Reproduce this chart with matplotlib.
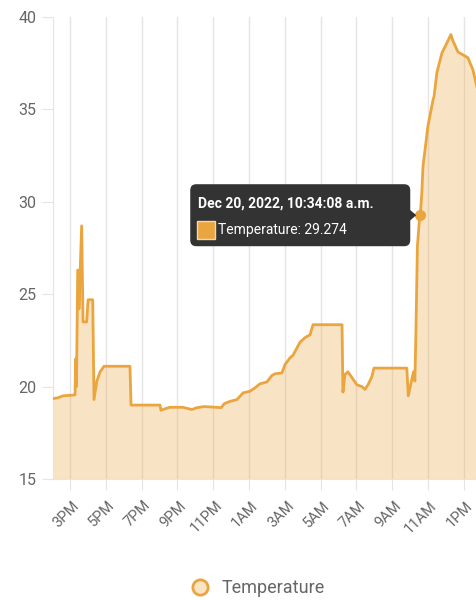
import matplotlib.pyplot as plt
from matplotlib.patches import FancyBboxPatch, Polygon, Rectangle
from matplotlib.lines import Line2D
from matplotlib.transforms import IdentityTransform, ScaledTranslation

plt.rcParams['font.family'] = ['Roboto', 'DejaVu Sans']

# hours since Dec 19 2022 00:00
hours = [14.05, 14.33, 14.61, 15.28, 15.32, 15.36, 15.43, 15.49, 15.50, 15.65,
         15.73, 15.93, 16.01, 16.27, 16.34, 16.50, 16.68, 16.90, 18.35, 18.41,
         20.03, 20.08, 20.31, 20.59, 21.30, 21.80, 22.10, 22.50, 23.45, 23.62,
         23.94, 24.33, 24.50, 24.67, 25.06, 25.33, 25.61, 26.00, 26.28, 26.45,
         26.84, 27.01, 27.29, 27.46, 27.85, 28.13, 28.41, 28.58, 30.20, 30.25,
         30.36, 30.53, 31.03, 31.31, 31.48, 31.65, 31.87, 31.98, 33.82, 33.90,
         34.19, 34.27, 34.33, 34.41, 34.52, 34.569, 34.66, 34.72, 35.00, 35.28,
         35.34, 35.50, 35.78, 36.06, 36.28, 36.40, 36.68, 36.96, 37.23, 37.51,
         37.74]
temps = [19.35, 19.4, 19.5, 19.55, 21.5, 20.0, 26.3, 26.3, 24.2, 28.7,
         23.5, 23.5, 24.7, 24.7, 19.3, 20.3, 20.8, 21.1, 21.1, 19.0,
         19.0, 18.72, 18.8, 18.88, 18.88, 18.76, 18.86, 18.92, 18.86, 19.08,
         19.2, 19.3, 19.48, 19.66, 19.75, 19.93, 20.15, 20.25, 20.6, 20.69,
         20.74, 21.19, 21.55, 21.7, 22.4, 22.65, 22.8, 23.35, 23.35, 19.7,
         20.65, 20.8, 20.1, 20.0, 19.85, 20.1, 20.55, 21.0, 21.0, 19.5,
         20.8, 20.3, 23.1, 27.6, 29.0, 29.274, 30.5, 31.9, 34.1, 35.5,
         35.7, 37.0, 38.05, 38.6, 39.05, 38.7, 38.1, 37.95, 37.8, 37.15,
         36.2]

tick_hours = [15, 17, 19, 21, 23, 25, 27, 29, 31, 33, 35, 37]
tick_labels = ['3PM', '5PM', '7PM', '9PM', '11PM', '1AM', '3AM', '5AM',
               '7AM', '9AM', '11AM', '1PM']

hover_hour = 34 + 34 / 60 + 8 / 3600
hover_temp = 29.274
hover_title = 'Dec 20, 2022, 10:34:08 a.m.'

line_color = '#EBA53E'
fill_color = '#F9E4C5'
grid_color = '#E5E5E5'
text_color = '#666666'

fig = plt.figure(figsize=(4.77, 6.0), dpi=100)
ax = fig.add_axes([53 / 477, 1 - 479 / 600, 424 / 477, 462 / 600])

ax.fill_between(hours, temps, 15, color=line_color, alpha=0.3, lw=0, zorder=2)
ax.plot(hours, temps, color=line_color, lw=2, zorder=3)

ax.set_xlim(hours[0], hours[-1])
ax.set_ylim(15, 40)
ax.set_yticks([15, 20, 25, 30, 35, 40])
ax.set_xticks(tick_hours)
ax.set_xticklabels(tick_labels, rotation=45, ha='right', rotation_mode='anchor')

ax.grid(axis='x', color=grid_color, lw=1, zorder=0)
ax.set_axisbelow(True)
for side in ['top', 'right']:
    ax.spines[side].set_visible(False)
for side in ['left', 'bottom']:
    ax.spines[side].set_color(grid_color)
ax.tick_params(axis='both', color=grid_color, length=8, labelcolor=text_color)
ax.tick_params(axis='y', labelsize=11.5, pad=4)
ax.tick_params(axis='x', labelsize=10.5, pad=3)
shift = ScaledTranslation(0.02, -0.04, fig.dpi_scale_trans)
for lbl in ax.get_xticklabels():
    lbl.set_transform(lbl.get_transform() + shift)

# hover point + tooltip
ax.plot(hover_hour, hover_temp, 'o', ms=7, color=line_color, zorder=5)
px, py = ax.transData.transform((hover_hour, hover_temp))
ident = IdentityTransform()
right = px - 10
left = right - 220
box = FancyBboxPatch((left, py - 31), 220, 62, boxstyle='round,pad=0,rounding_size=6',
                     transform=ident, fc='#333333', ec='none', zorder=10)
fig.add_artist(box)
fig.add_artist(Polygon([(right - 1, py + 6), (right + 6, py), (right - 1, py - 6)],
                       transform=ident, fc='#333333', ec='none', zorder=10))
fig.add_artist(Rectangle((left + 7, py - 24), 18, 18, transform=ident,
                         fc=line_color, ec='#F3D9AE', lw=1, zorder=11))
fig.text(left + 8, py + 12, hover_title, transform=ident, color='white',
         fontsize=10, fontweight='bold', va='center', ha='left', zorder=12)
fig.text(left + 28, py - 15, 'Temperature: %.3f' % hover_temp, transform=ident,
         color='white', fontsize=10, va='center', ha='left', zorder=12)

handle = Line2D([], [], marker='o', ls='none', ms=11, mfc=fill_color,
                mec=line_color, mew=2)
fig.legend(handles=[handle], labels=['Temperature'], loc='center',
           bbox_to_anchor=(258 / 477, 1 - 588 / 600), frameon=False,
           fontsize=13, labelcolor=text_color, handlelength=1.0,
           handletextpad=0.7)

fig.savefig('out.png', dpi=100)
